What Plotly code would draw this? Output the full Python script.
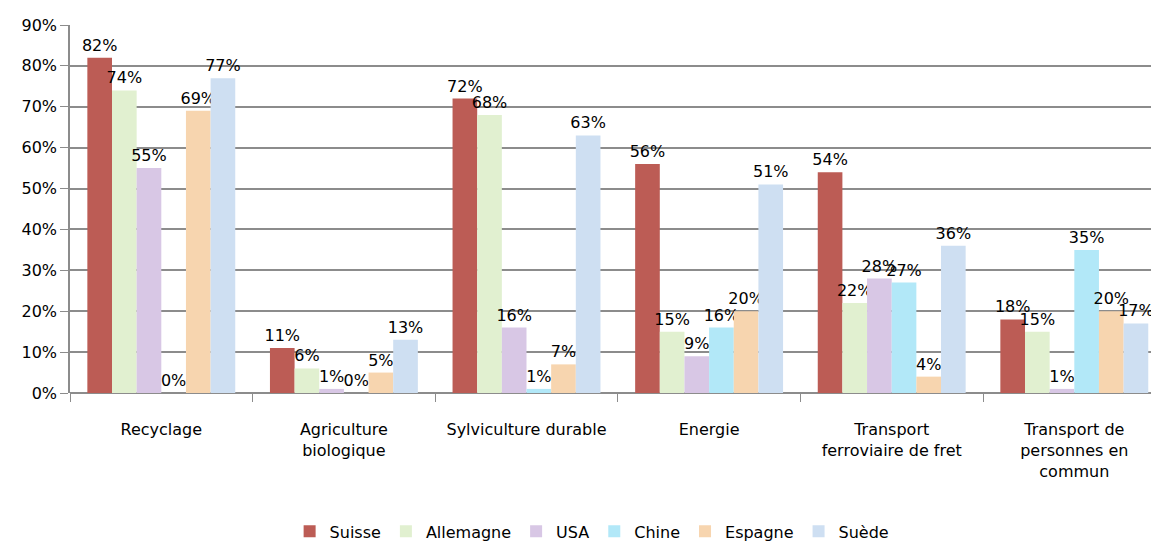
import plotly.graph_objects as go

categories = ["Recyclage", "Agriculture<br>biologique", "Sylviculture durable", "Energie",
              "Transport<br>ferroviaire de fret", "Transport de<br>personnes en<br>commun"]
series_names = ["Suisse", "Allemagne", "USA", "Chine", "Espagne", "Suède"]
suisse = [82, 11, 72, 56, 54, 18]
allemagne = [74, 6, 68, 15, 22, 15]
usa = [55, 1, 16, 9, 28, 1]
chine = [0, 0, 1, 16, 27, 35]
espagne = [69, 5, 7, 20, 4, 20]
suede = [77, 13, 63, 51, 36, 17]
colors = ["#BC5C55", "#E1F0D0", "#D8C7E5", "#B2E8F8", "#F7D5AF", "#CEDFF2"]

values = [suisse, allemagne, usa, chine, espagne, suede]
font = "DejaVu Sans"

fig = go.Figure()
for name, vals, col in zip(series_names, values, colors):
    fig.add_trace(go.Bar(
        name=name, x=categories, y=vals, marker_color=col, marker_line_width=0,
        text=[f"{v}%" for v in vals], textposition="outside", cliponaxis=False,
        constraintext="none",
        textfont=dict(family=font, size=16, color="#000000"),
    ))

fig.update_layout(
    width=1151, height=545,
    margin=dict(l=70, r=0, t=25, b=152, autoexpand=False),
    paper_bgcolor="white", plot_bgcolor="white",
    barmode="group", bargap=0.19, bargroupgap=0,
    font=dict(family=font, size=16, color="#000000"),
    legend=dict(orientation="h", x=0.483, xanchor="center", y=-0.33, yanchor="top",
                font=dict(family=font, size=16), itemwidth=30, traceorder="normal"),
    showlegend=True,
)
fig.update_xaxes(
    range=[-0.5, 5.42], tickson="boundaries", ticks="outside", ticklen=8,
    tickcolor="#8C8C8C", showline=False, showgrid=False, automargin=False,
    ticklabelstandoff=25,
    tickfont=dict(family=font, size=16), tickangle=0,
)
fig.update_yaxes(
    range=[0, 90], dtick=10, ticksuffix="%", showgrid=True, gridcolor="#8C8C8C",
    gridwidth=1.5, showline=True, linecolor="#8C8C8C", linewidth=1.5,
    ticks="outside", ticklen=8, tickcolor="#8C8C8C", zeroline=True,
    zerolinecolor="#8C8C8C", zerolinewidth=1.5, automargin=False,
    tickfont=dict(family=font, size=16),
)
fig.write_html("out.html")
